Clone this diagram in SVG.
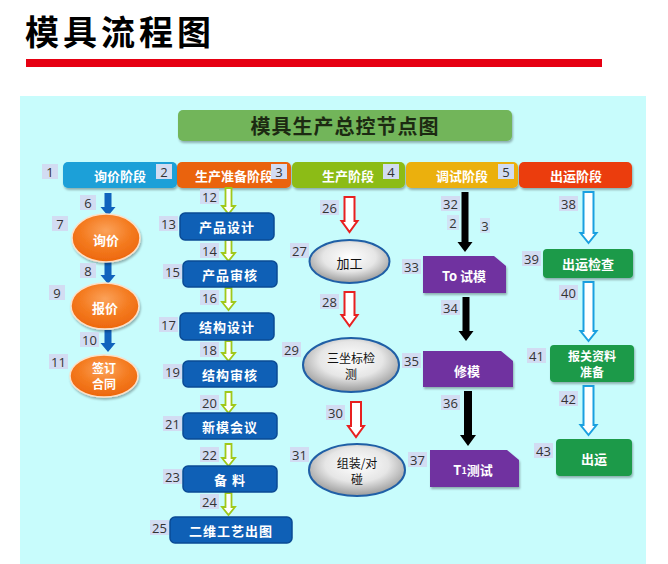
<svg xmlns="http://www.w3.org/2000/svg" width="668" height="564" viewBox="0 0 668 564">
<defs>
<filter id="sh" x="-10%" y="-20%" width="120%" height="150%"><feDropShadow dx="1" dy="2" stdDeviation="1.2" flood-color="#000" flood-opacity="0.3"/></filter>
<radialGradient id="og" cx="50%" cy="35%" r="60%"><stop offset="0" stop-color="#fba25a"/><stop offset="0.6" stop-color="#f47b20"/><stop offset="1" stop-color="#ee6a10"/></radialGradient>
<radialGradient id="gg" cx="50%" cy="40%" r="60%"><stop offset="0" stop-color="#ffffff"/><stop offset="0.55" stop-color="#e6e6e6"/><stop offset="1" stop-color="#9a9a9a"/></radialGradient>
<style>
.lb{fill:#d2dcf2}
.lt{font-family:"Open Sans","Liberation Sans",sans-serif;font-size:13px;fill:#333;text-anchor:middle;dominant-baseline:central}
.ht{font-family:"Noto Sans CJK SC",sans-serif;font-weight:bold;font-size:13px;fill:#fff;text-anchor:middle;dominant-baseline:central}
.h2{font-family:"Noto Sans CJK SC",sans-serif;font-weight:bold;font-size:12px;fill:#fff;text-anchor:middle}
.bt{font-family:"Noto Sans CJK SC",sans-serif;font-weight:bold;font-size:13px;fill:#fff;text-anchor:middle;dominant-baseline:central;letter-spacing:1px}
.et{font-family:"Noto Sans CJK SC",sans-serif;font-size:13px;fill:#111;text-anchor:middle;dominant-baseline:central}
.e2{font-family:"Noto Sans CJK SC",sans-serif;font-size:12px;fill:#111;text-anchor:middle}
.bb{fill:#0f60b6;stroke:#0a4a94;stroke-width:1.5}
.gb{fill:#1a9a4a}
.pb{fill:#7030a0}
.oe{fill:url(#og);stroke:#fde0c8;stroke-width:1.5}
.ge{fill:url(#gg);stroke:#1f5fa6;stroke-width:2}
.a1{fill:#1063bd}
.a2{fill:#fff;stroke:#a0c81a;stroke-width:1.8}
.a3{fill:#fff;stroke:#e82020;stroke-width:2}
.a4{fill:#000}
.a5{fill:#fff;stroke:#1aa0e0;stroke-width:2}
</style>
</defs>

<g id="page">
<text x="25" y="45" font-family="Noto Sans CJK SC, sans-serif" font-weight="bold" font-size="34" letter-spacing="4" fill="#000">模具流程图</text>
<rect x="26" y="59" width="576" height="8" fill="#e60012"/>
<rect x="20" y="96" width="626" height="468" fill="#c8fcfc"/>
</g>

<g id="title">
<rect x="178" y="110" width="334" height="31" rx="5" fill="#72b55a" filter="url(#sh)"/>
<text x="345" y="125.5" font-family="Noto Sans CJK SC, serif" font-weight="bold" font-size="20" fill="#1c2a12" text-anchor="middle" dominant-baseline="central" letter-spacing="1">模具生产总控节点图</text>
</g>

<g id="headers">
<g id="h1"><rect x="63" y="162" width="114" height="26" rx="5" fill="#1aa0d8" filter="url(#sh)"/><text class="ht" x="120" y="175">询价阶段</text></g>
<g id="h2"><rect x="177" y="162" width="114" height="26" rx="5" fill="#ea640e" filter="url(#sh)"/><text class="ht" x="234" y="175">生产准备阶段</text></g>
<g id="h3"><rect x="292" y="162" width="113" height="26" rx="5" fill="#8cbc14" filter="url(#sh)"/><text class="ht" x="348" y="175">生产阶段</text></g>
<g id="h4"><rect x="406" y="162" width="112" height="26" rx="5" fill="#ebb010" filter="url(#sh)"/><text class="ht" x="462" y="175">调试阶段</text></g>
<g id="h5"><rect x="519" y="162" width="113" height="26" rx="5" fill="#eb3c10" filter="url(#sh)"/><text class="ht" x="576" y="175">出运阶段</text></g>
</g>

<g id="connectors">
<path class="a1" d="M104.5,193 H111.5 V207 H115.5 L108,216 L100.5,207 H104.5 Z"/>
<path class="a1" d="M104.5,262 H111.5 V275 H115.5 L108,284 L100.5,275 H104.5 Z"/>
<path class="a1" d="M104.5,330 H111.5 V343 H115.5 L108,352 L100.5,343 H104.5 Z"/>
<path class="a2" d="M225.5,188 H231.5 V206 H235 L228.5,214 L222,206 H225.5 Z"/>
<path class="a2" d="M225.5,240 H231.5 V253 H235 L228.5,261 L222,253 H225.5 Z"/>
<path class="a2" d="M225.5,288 H231.5 V302 H235 L228.5,310 L222,302 H225.5 Z"/>
<path class="a2" d="M225.5,341 H231.5 V353 H235 L228.5,361 L222,353 H225.5 Z"/>
<path class="a2" d="M225.5,392 H231.5 V405 H235 L228.5,413 L222,405 H225.5 Z"/>
<path class="a2" d="M225.5,444 H231.5 V458 H235 L228.5,466 L222,458 H225.5 Z"/>
<path class="a2" d="M225.5,493 H231.5 V507 H235 L228.5,515 L222,507 H225.5 Z"/>
<path class="a3" d="M344.5,197 H354.5 V221 H357.5 L349.5,232 L341.5,221 H344.5 Z"/>
<path class="a3" d="M344.5,292 H354.5 V315 H357.5 L349.5,326 L341.5,315 H344.5 Z"/>
<path class="a3" d="M351,402 H361 V426 H364 L356,437 L348,426 H351 Z"/>
<path class="a4" d="M461.5,192 H468.5 V242 H472.5 L465,252 L457.5,242 H461.5 Z"/>
<path class="a4" d="M462.5,297 H469.5 V331 H473.5 L466,341 L458.5,331 H462.5 Z"/>
<path class="a4" d="M464,391 H472 V435 H476 L468,446 L460,435 H464 Z"/>
<path class="a5" d="M583.5,192 H593.5 V233 H596.5 L588.5,243 L580.5,233 H583.5 Z"/>
<path class="a5" d="M583.5,282 H593.5 V331 H596.5 L588.5,341 L580.5,331 H583.5 Z"/>
<path class="a5" d="M583.5,386 H593.5 V425 H596.5 L588.5,435 L580.5,425 H583.5 Z"/>
</g>

<g id="n-xunjia"><ellipse class="oe" cx="106" cy="238" rx="34" ry="24" filter="url(#sh)"/><text class="ht" x="106" y="239">询价</text></g>
<g id="n-baojia"><ellipse class="oe" cx="105" cy="306" rx="34" ry="23" filter="url(#sh)"/><text class="ht" x="105" y="307">报价</text></g>
<g id="n-qianding"><ellipse class="oe" cx="104" cy="376" rx="34" ry="21" filter="url(#sh)"/><text class="h2" x="104" y="373">签订</text><text class="h2" x="104" y="389">合同</text></g>

<g id="n-cpsj"><rect class="bb" x="180" y="213" width="94" height="27" rx="5"/><text class="bt" x="227" y="226.5">产品设计</text></g>
<g id="n-cpsh"><rect class="bb" x="183" y="261" width="94" height="26" rx="5"/><text class="bt" x="230" y="274">产品审核</text></g>
<g id="n-jgsj"><rect class="bb" x="180" y="313" width="94" height="27" rx="5"/><text class="bt" x="227" y="326.5">结构设计</text></g>
<g id="n-jgsh"><rect class="bb" x="183" y="361" width="94" height="26" rx="5"/><text class="bt" x="230" y="374">结构审核</text></g>
<g id="n-xmhy"><rect class="bb" x="183" y="413" width="94" height="26" rx="5"/><text class="bt" x="230" y="426">新模会议</text></g>
<g id="n-beiliao"><rect class="bb" x="183" y="466" width="94" height="26" rx="5"/><text class="bt" x="230" y="479">备 料</text></g>
<g id="n-ewgy"><rect class="bb" x="170" y="517" width="122" height="26" rx="5"/><text class="bt" x="231" y="530" font-size="14">二维工艺出图</text></g>

<g id="n-jiagong"><ellipse class="ge" cx="349.5" cy="261.5" rx="40" ry="21.5"/><text class="et" x="349.5" y="262">加工</text></g>
<g id="n-szb"><ellipse class="ge" cx="351" cy="365" rx="48" ry="27"/><text class="e2" x="351" y="363">三坐标检</text><text class="e2" x="351" y="379">测</text></g>
<g id="n-zz"><ellipse class="ge" cx="357" cy="470" rx="48" ry="26"/><text class="e2" x="357" y="468">组装/对</text><text class="e2" x="357" y="484">碰</text></g>

<g id="n-t0"><path class="pb" d="M423,256 H494 L506,266 V293 H423 Z" filter="url(#sh)"/><text class="ht" x="464" y="275.5">To 试模</text></g>
<g id="n-xiumo"><path class="pb" d="M423,351 H501 L513,361 V387 H423 Z" filter="url(#sh)"/><text class="ht" x="467" y="370">修模</text></g>
<g id="n-t1"><path class="pb" d="M430,450 H507 L519,460 V487 H430 Z" filter="url(#sh)"/><text class="ht" x="473" y="469.5">T<tspan font-size="9">1</tspan>测试</text></g>

<g id="n-cyjc"><rect class="gb" x="543" y="249" width="90" height="29" rx="4" filter="url(#sh)"/><text class="ht" x="588" y="263.5">出运检查</text></g>
<g id="n-bgzl"><rect class="gb" x="550" y="345" width="84" height="37" rx="4" filter="url(#sh)"/><text class="h2" x="592" y="361">报关资料</text><text class="h2" x="592" y="377">准备</text></g>
<g id="n-chuyun"><rect class="gb" x="556" y="439" width="76" height="37" rx="4" filter="url(#sh)"/><text class="ht" x="594" y="458">出运</text></g>

<g id="labels">
<rect class="lb" x="42" y="164" width="16" height="15"/><text class="lt" x="50" y="171.5">1</text>
<rect class="lb" x="156" y="164" width="16" height="15"/><text class="lt" x="164" y="171.5">2</text>
<rect class="lb" x="271" y="164" width="16" height="15"/><text class="lt" x="279" y="171.5">3</text>
<rect class="lb" x="383" y="164" width="16" height="15"/><text class="lt" x="391" y="171.5">4</text>
<rect class="lb" x="498" y="164" width="16" height="15"/><text class="lt" x="506" y="171.5">5</text>
<rect class="lb" x="80" y="195" width="16" height="15"/><text class="lt" x="88" y="202.5">6</text>
<rect class="lb" x="52" y="216" width="16" height="15"/><text class="lt" x="60" y="223.5">7</text>
<rect class="lb" x="80" y="263" width="16" height="15"/><text class="lt" x="88" y="270.5">8</text>
<rect class="lb" x="49" y="285" width="16" height="15"/><text class="lt" x="57" y="292.5">9</text>
<rect class="lb" x="80" y="332" width="19" height="15"/><text class="lt" x="89.5" y="339.5">10</text>
<rect class="lb" x="49" y="354" width="19" height="15"/><text class="lt" x="58.5" y="361.5">11</text>
<rect class="lb" x="200" y="189" width="19" height="15"/><text class="lt" x="209.5" y="196.5">12</text>
<rect class="lb" x="159" y="216" width="19" height="15"/><text class="lt" x="168.5" y="223.5">13</text>
<rect class="lb" x="200" y="243" width="19" height="15"/><text class="lt" x="209.5" y="250.5">14</text>
<rect class="lb" x="163" y="264" width="19" height="15"/><text class="lt" x="172.5" y="271.5">15</text>
<rect class="lb" x="200" y="290" width="19" height="15"/><text class="lt" x="209.5" y="297.5">16</text>
<rect class="lb" x="159" y="317" width="19" height="15"/><text class="lt" x="168.5" y="324.5">17</text>
<rect class="lb" x="200" y="342" width="19" height="15"/><text class="lt" x="209.5" y="349.5">18</text>
<rect class="lb" x="163" y="364" width="19" height="15"/><text class="lt" x="172.5" y="371.5">19</text>
<rect class="lb" x="200" y="395" width="19" height="15"/><text class="lt" x="209.5" y="402.5">20</text>
<rect class="lb" x="163" y="416" width="19" height="15"/><text class="lt" x="172.5" y="423.5">21</text>
<rect class="lb" x="200" y="447" width="19" height="15"/><text class="lt" x="209.5" y="454.5">22</text>
<rect class="lb" x="163" y="469" width="19" height="15"/><text class="lt" x="172.5" y="476.5">23</text>
<rect class="lb" x="200" y="494" width="19" height="15"/><text class="lt" x="209.5" y="501.5">24</text>
<rect class="lb" x="150" y="520" width="19" height="15"/><text class="lt" x="159.5" y="527.5">25</text>
<rect class="lb" x="320" y="200" width="19" height="15"/><text class="lt" x="329.5" y="207.5">26</text>
<rect class="lb" x="290" y="243" width="19" height="15"/><text class="lt" x="299.5" y="250.5">27</text>
<rect class="lb" x="320" y="294" width="19" height="15"/><text class="lt" x="329.5" y="301.5">28</text>
<rect class="lb" x="282" y="342" width="19" height="15"/><text class="lt" x="291.5" y="349.5">29</text>
<rect class="lb" x="326" y="405" width="19" height="15"/><text class="lt" x="335.5" y="412.5">30</text>
<rect class="lb" x="290" y="447" width="19" height="15"/><text class="lt" x="299.5" y="454.5">31</text>
<rect class="lb" x="441" y="196" width="19" height="15"/><text class="lt" x="450.5" y="203.5">32</text>
<rect class="lb" x="447" y="215" width="12" height="15" opacity="0.8"/><text class="lt" x="453" y="222.5">2</text>
<rect class="lb" x="480" y="218" width="10" height="15" opacity="0.8"/><text class="lt" x="485" y="225.5">3</text>
<rect class="lb" x="402" y="259" width="19" height="15"/><text class="lt" x="411.5" y="266.5">33</text>
<rect class="lb" x="441" y="300" width="19" height="15"/><text class="lt" x="450.5" y="307.5">34</text>
<rect class="lb" x="402" y="353" width="19" height="15"/><text class="lt" x="411.5" y="360.5">35</text>
<rect class="lb" x="441" y="395" width="19" height="15"/><text class="lt" x="450.5" y="402.5">36</text>
<rect class="lb" x="408" y="452" width="19" height="15"/><text class="lt" x="417.5" y="459.5">37</text>
<rect class="lb" x="559" y="196" width="19" height="15"/><text class="lt" x="568.5" y="203.5">38</text>
<rect class="lb" x="522" y="251" width="19" height="15"/><text class="lt" x="531.5" y="258.5">39</text>
<rect class="lb" x="559" y="285" width="19" height="15"/><text class="lt" x="568.5" y="292.5">40</text>
<rect class="lb" x="527" y="348" width="19" height="15"/><text class="lt" x="536.5" y="355.5">41</text>
<rect class="lb" x="559" y="391" width="19" height="15"/><text class="lt" x="568.5" y="398.5">42</text>
<rect class="lb" x="534" y="443" width="19" height="15"/><text class="lt" x="543.5" y="450.5">43</text>
</g>
</svg>
